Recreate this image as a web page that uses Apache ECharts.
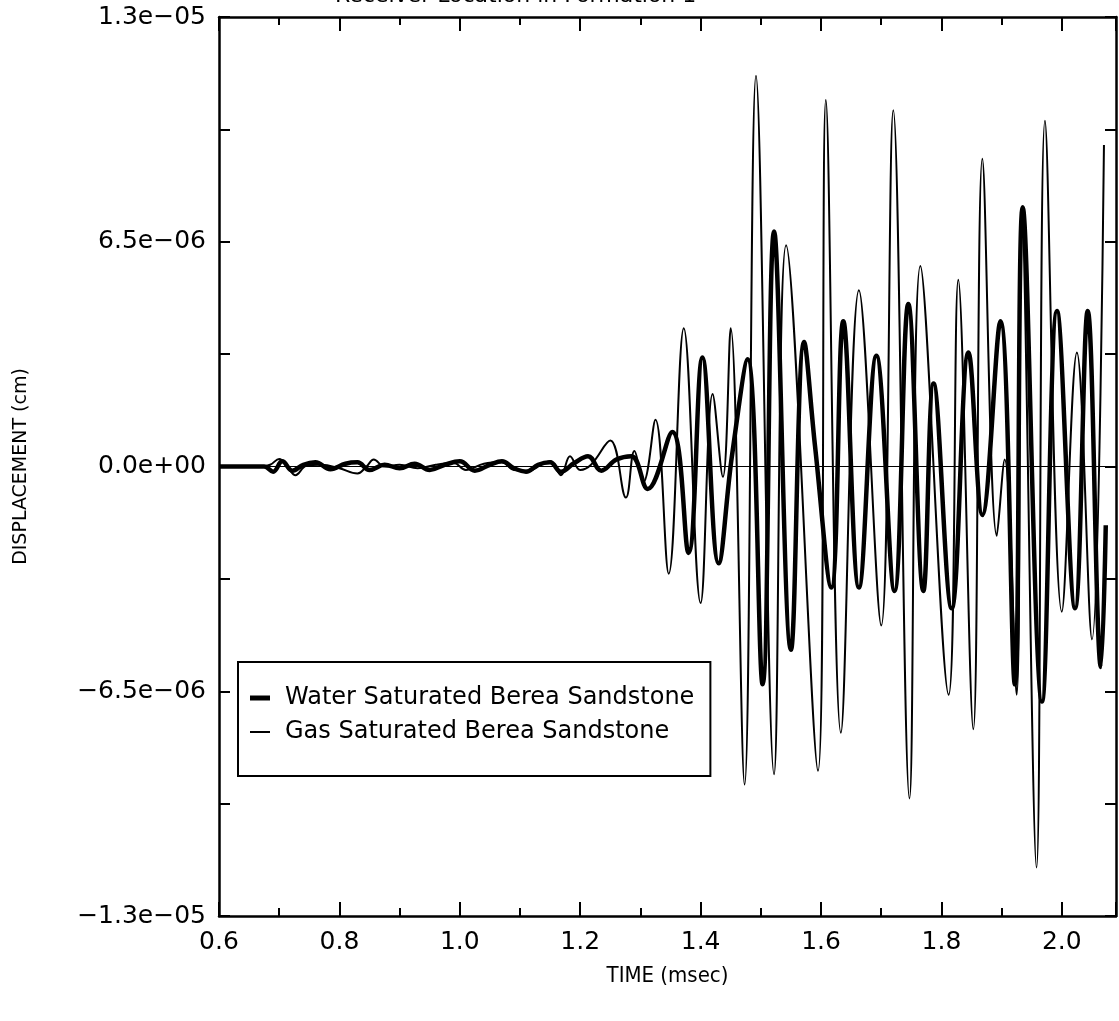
<!DOCTYPE html>
<html>
<head>
<meta charset="utf-8">
<script src="https://cdn.jsdelivr.net/npm/echarts@6/dist/echarts.min.js"></script>
<style>
  html, body { margin: 0; padding: 0; background: #fff; }
  #chart { width: 1119px; height: 1021px; }
</style>
</head>
<body>
<div id="chart"></div>
<script>
// Displacement values are in units of 1e-6 cm
const xTicks = [0.6, 0.8, 1.0, 1.2, 1.4, 1.6, 1.8, 2.0];
const yTicks = [-13, -6.5, 0, 6.5, 13];

const waterTime = [0.6, 0.675, 0.69, 0.705, 0.722, 0.74, 0.76, 0.785, 0.81, 0.83,
  0.85, 0.875, 0.90, 0.925, 0.95, 0.975, 1.0, 1.025, 1.05, 1.07,
  1.09, 1.11, 1.13, 1.15, 1.168, 1.19, 1.213, 1.235, 1.26, 1.285,
  1.312, 1.353, 1.38, 1.403, 1.43, 1.452, 1.478, 1.503, 1.522, 1.55,
  1.572, 1.59, 1.617, 1.637, 1.663, 1.692, 1.722, 1.745, 1.77, 1.787,
  1.817, 1.845, 1.868, 1.898, 1.922, 1.935, 1.967, 1.992, 2.022, 2.043,
  2.065, 2.073];
const waterDisp = [0, 0, -0.15, 0.15, -0.12, 0.05, 0.12, -0.08, 0.08, 0.12,
  -0.1, 0.05, -0.05, 0.08, -0.1, 0.05, 0.15, -0.12, 0.05, 0.15,
  -0.05, -0.15, 0.05, 0.12, -0.15, 0.1, 0.3, -0.12, 0.2, 0.3,
  -0.65, 1.0, -2.5, 3.15, -2.8, 0.3, 3.1, -6.3, 6.8, -5.3,
  3.6, 0.6, -3.5, 4.2, -3.5, 3.2, -3.6, 4.7, -3.6, 2.4,
  -4.1, 3.3, -1.4, 4.2, -6.3, 7.5, -6.8, 4.5, -4.1, 4.5,
  -5.8, -1.7];

const gasTime = [0.6, 0.67, 0.685, 0.70, 0.715, 0.727, 0.745, 0.77, 0.80, 0.83,
  0.845, 0.857, 0.875, 0.90, 0.93, 0.96, 0.99, 1.01, 1.04, 1.07,
  1.09, 1.115, 1.135, 1.15, 1.168, 1.183, 1.20, 1.218, 1.25, 1.276,
  1.29, 1.305, 1.325, 1.347, 1.372, 1.40, 1.42, 1.437, 1.45, 1.473,
  1.492, 1.522, 1.542, 1.595, 1.608, 1.633, 1.663, 1.70, 1.72, 1.747,
  1.765, 1.812, 1.828, 1.853, 1.868, 1.892, 1.905, 1.925, 1.933, 1.958,
  1.972, 2.0, 2.025, 2.05, 2.07];
const gasDisp = [0, 0, 0.05, 0.22, -0.05, -0.25, 0.02, 0.05, -0.05, -0.2,
  0, 0.2, 0, 0.05, -0.05, 0.05, 0.1, -0.1, 0.08, 0.12,
  -0.1, -0.12, 0.05, 0.15, -0.25, 0.3, -0.1, 0.05, 0.75, -0.9,
  0.45, -0.45, 1.35, -3.1, 4.0, -3.95, 2.1, -0.3, 4.0, -9.2,
  11.3, -8.9, 6.4, -8.8, 10.6, -7.7, 5.1, -4.6, 10.3, -9.6,
  5.8, -6.6, 5.4, -7.6, 8.9, -2.0, 0.2, -6.6, 7.5, -11.6,
  10.0, -4.2, 3.3, -5.0, 9.3];

const seriesNames = ['Water Saturated Berea Sandstone', 'Gas Saturated Berea Sandstone'];
const FONT = 'DejaVu Sans';
const X_MIN = 0.6, X_MAX = 2.09, Y_MIN = -13, Y_MAX = 13;

function pairs(t, v) { return t.map((x, i) => [x, v[i]]); }

function yFmt(v) {
  const isMajor = yTicks.some(t => Math.abs(t - v) < 1e-6);
  if (!isMajor) return '';
  if (Math.abs(v) < 1e-9) return '0.0e+00';
  const val = v * 1e-6;
  const e = Math.floor(Math.log10(Math.abs(val)) + 1e-9);
  const m = val / Math.pow(10, e);
  const es = (e < 0 ? '\u2212' : '+') + String(Math.abs(e)).padStart(2, '0');
  return (m < 0 ? '\u2212' : '') + Math.abs(m).toFixed(1) + 'e' + es;
}
function xFmt(v) {
  return xTicks.some(t => Math.abs(t - v) < 1e-6) ? v.toFixed(1) : '';
}

const axisLineStyle = { color: '#000', width: 2.5 };
const tickStyle = { color: '#000', width: 2 };

function xAxisDef(pos, interval, tickLen, withLine, withLabel) {
  return {
    type: 'value', position: pos, min: X_MIN, max: X_MAX, interval: interval,
    axisLine: { show: withLine, onZero: false, lineStyle: axisLineStyle },
    axisTick: { show: true, inside: true, length: tickLen, lineStyle: tickStyle },
    axisLabel: { show: withLabel, color: '#000', fontFamily: FONT, fontSize: 25, margin: 14, formatter: xFmt },
    splitLine: { show: false }
  };
}

const xAxes = [
  xAxisDef('bottom', 0.2, 14, true, true),
  xAxisDef('bottom', 0.1, 8, false, false),
  xAxisDef('top', 0.2, 14, true, false),
  xAxisDef('top', 0.1, 8, false, false)
];
Object.assign(xAxes[0], {
  name: 'TIME (msec)', nameLocation: 'middle', nameGap: 49,
  nameTextStyle: { fontFamily: '"DejaVu Sans Condensed", "DejaVu Sans"', fontSize: 22, color: '#000' }
});

const chart = echarts.init(document.getElementById('chart'), null, { renderer: 'canvas' });
chart.setOption({
  animation: false,
  backgroundColor: '#fff',
  grid: { left: 219, right: 2, top: 17, bottom: 105, containLabel: false },
  graphic: [{
    type: 'text', left: 335, top: -15,
    style: { text: 'Receiver Location in Formation 1', font: '22px "DejaVu Sans"', fill: '#000' }
  }],
  legend: {
    left: 238, top: 662, orient: 'vertical',
    padding: [23, 16, 31, 12], itemGap: 8, itemWidth: 20, itemHeight: 14,
    borderColor: '#000', borderWidth: 2, backgroundColor: '#fff',
    textStyle: { fontFamily: FONT, fontSize: 24, color: '#000', lineHeight: 26, padding: [0, 0, 0, 10] },
    data: [
      { name: seriesNames[0], icon: 'path://M0,0L20,0L20,5L0,5Z', itemStyle: { color: '#000' } },
      { name: seriesNames[1], icon: 'path://M0,0L20,0L20,2L0,2Z', itemStyle: { color: '#000' } }
    ]
  },
  xAxis: xAxes,
  yAxis: [{
    type: 'value', position: 'left', min: Y_MIN, max: Y_MAX, interval: 3.25,
    axisLine: { show: true, onZero: false, lineStyle: axisLineStyle },
    axisTick: { show: true, inside: true, length: 11, lineStyle: tickStyle },
    axisLabel: { color: '#000', fontFamily: FONT, fontSize: 25, margin: 13, formatter: yFmt },
    splitLine: { show: false },
    name: 'DISPLACEMENT (cm)', nameLocation: 'middle', nameGap: 188,
    nameTextStyle: { fontFamily: FONT, fontSize: 19, color: '#000' }
  }, {
    type: 'value', position: 'right', min: Y_MIN, max: Y_MAX, interval: 3.25,
    axisLine: { show: true, onZero: false, lineStyle: axisLineStyle },
    axisTick: { show: true, inside: true, length: 11, lineStyle: tickStyle },
    axisLabel: { show: false }, splitLine: { show: false }
  }],
  series: [{
    name: seriesNames[0], type: 'line', xAxisIndex: 0, yAxisIndex: 0,
    data: pairs(waterTime, waterDisp), symbol: 'none', smooth: 0.4,
    lineStyle: { color: '#000', width: 4.5 }, itemStyle: { color: '#000' }, z: 3
  }, {
    name: seriesNames[1], type: 'line', xAxisIndex: 0, yAxisIndex: 0,
    data: pairs(gasTime, gasDisp), symbol: 'none', smooth: 0.4,
    lineStyle: { color: '#000', width: 2 }, itemStyle: { color: '#000' }, z: 4,
    markLine: {
      silent: true, symbol: 'none', label: { show: false },
      lineStyle: { color: '#000', width: 1.2, type: 'solid' },
      data: [{ yAxis: 0 }]
    }
  }]
});
</script>
</body>
</html>
